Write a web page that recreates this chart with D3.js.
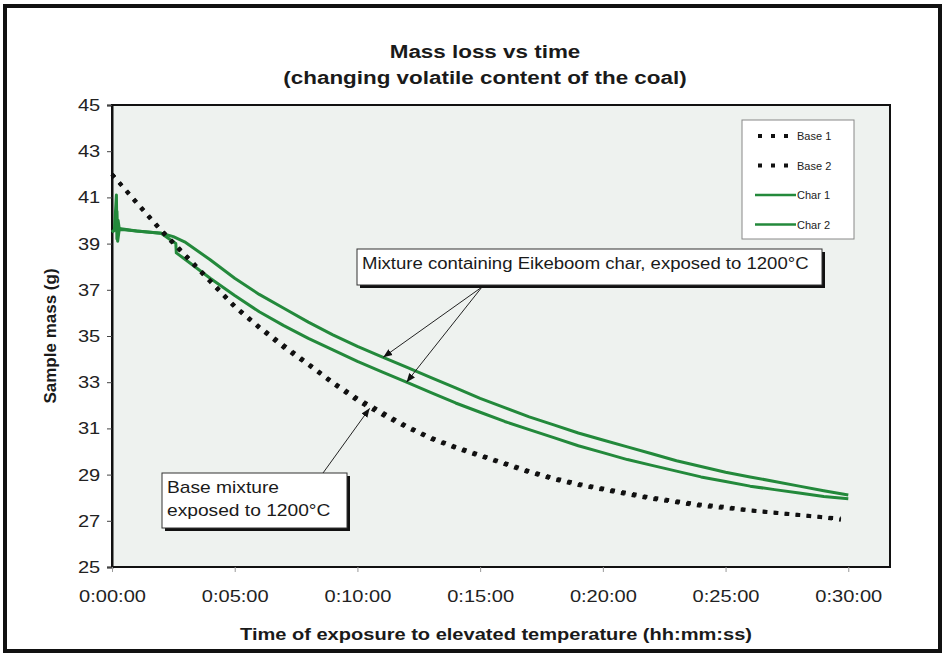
<!DOCTYPE html>
<html>
<head>
<meta charset="utf-8">
<script src="https://cdn.jsdelivr.net/npm/d3@7/dist/d3.min.js"></script>
<style>
  body { margin: 0; background: #fff; }
  svg { display: block; font-family: "Liberation Sans", Arial, sans-serif; }
</style>
</head>
<body>
<div id="chart"></div>
<script>
// values (time in minutes, mass in g)
var xTicks = [0, 5, 10, 15, 20, 25, 30];
var xTickLabels = ["0:00:00", "0:05:00", "0:10:00", "0:15:00", "0:20:00", "0:25:00", "0:30:00"];
var yTicks = [25, 27, 29, 31, 33, 35, 37, 39, 41, 43, 45];

var baseTime = [0, 1, 2, 3, 4, 5, 6, 7, 8, 9, 10, 11, 12, 13, 14, 15, 16, 17, 18, 19, 20, 21, 22, 23, 24, 25, 26, 27, 28, 29, 29.7];
var base1Mass = [42.0, 40.8, 39.6, 38.5, 37.4, 36.3, 35.4, 34.6, 33.8, 33.0, 32.3, 31.7, 31.1, 30.6, 30.2, 29.85, 29.5, 29.15, 28.85, 28.6, 28.4, 28.2, 28.0, 27.85, 27.7, 27.6, 27.45, 27.35, 27.25, 27.15, 27.1];
var base2Mass = [42.0, 40.75, 39.55, 38.45, 37.35, 36.25, 35.35, 34.5, 33.75, 32.95, 32.2, 31.6, 31.05, 30.55, 30.15, 29.8, 29.45, 29.1, 28.8, 28.55, 28.35, 28.15, 27.95, 27.8, 27.65, 27.55, 27.45, 27.35, 27.25, 27.15, 27.05];

var char1Time = [0, 0.1, 0.18, 0.2, 0.25, 0.3, 0.5, 1, 2, 2.5, 3, 4, 5, 6, 7, 8, 9, 10, 11, 12, 13, 14, 15, 16, 17, 18, 19, 20, 21, 22, 23, 24, 25, 26, 27, 28, 29, 30];
var char1Mass = [39.5, 39.6, 41.1, 39.2, 40.0, 39.6, 39.6, 39.55, 39.45, 39.3, 39.05, 38.3, 37.5, 36.8, 36.2, 35.6, 35.05, 34.55, 34.1, 33.65, 33.2, 32.75, 32.3, 31.9, 31.5, 31.15, 30.8, 30.5, 30.2, 29.9, 29.6, 29.35, 29.1, 28.9, 28.7, 28.5, 28.3, 28.12];

var char2Time = [0, 0.15, 0.2, 0.23, 0.3, 1, 2, 2.6, 2.62, 3, 4, 5, 6, 7, 8, 9, 10, 11, 12, 13, 14, 15, 16, 17, 18, 19, 20, 21, 22, 23, 24, 25, 26, 27, 28, 29, 30];
var char2Mass = [39.5, 39.6, 40.4, 39.1, 39.65, 39.55, 39.45, 39.0, 38.6, 38.3, 37.5, 36.75, 36.05, 35.45, 34.9, 34.4, 33.9, 33.45, 33.0, 32.55, 32.1, 31.7, 31.3, 30.95, 30.6, 30.25, 29.95, 29.65, 29.4, 29.15, 28.9, 28.7, 28.5, 28.35, 28.2, 28.05, 27.95];

var legendNames = ["Base 1", "Base 2", "Char 1", "Char 2"];

const W = 945, H = 656;
const pLeft = 112, pRight = 890, pTop = 105, pBottom = 567;
const green = "#23893b";
const SX = 1.18; // the scanned lettering is a bit wide

const svg = d3.select("#chart").append("svg")
  .attr("width", W).attr("height", H);

// outer frame
svg.append("rect").attr("x", 5).attr("y", 6).attr("width", 935).attr("height", 645)
  .attr("fill", "#fff").attr("stroke", "#111").attr("stroke-width", 4);

const x = d3.scaleLinear().domain([0, 31.7]).range([pLeft, pRight]);
const y = d3.scaleLinear().domain([25, 45]).range([pBottom, pTop]);

// plot area
svg.append("rect").attr("x", pLeft).attr("y", pTop)
  .attr("width", pRight - pLeft).attr("height", pBottom - pTop)
  .attr("fill", "#eef2ef").attr("stroke", "#111").attr("stroke-width", 2);

function label(px, py, txt, size, bold, anchor, sx) {
  return svg.append("text")
    .attr("transform", `translate(${px},${py}) scale(${sx || SX},1)`)
    .attr("text-anchor", anchor || "middle")
    .attr("font-size", size).attr("font-weight", bold ? "bold" : null)
    .attr("fill", "#1a1a1a").text(txt);
}

// titles
label(485, 58, "Mass loss vs time", 19, true);
label(485, 84, "(changing volatile content of the coal)", 19, true);

// axes
const yAxis = svg.append("g").attr("transform", `translate(${pLeft},0)`)
  .call(d3.axisLeft(y).tickValues(yTicks).tickSize(5).tickPadding(5));
yAxis.select(".domain").attr("stroke", "#111").attr("stroke-width", 2);
yAxis.selectAll("line").attr("stroke", "#444");
yAxis.selectAll("text").attr("font-size", 17).attr("fill", "#222")
  .attr("transform", `scale(${SX},1)`);

const xAxis = svg.append("g").attr("transform", `translate(0,${pBottom})`)
  .call(d3.axisBottom(x).tickValues(xTicks).tickSize(5).tickPadding(18)
    .tickFormat((d, i) => xTickLabels[i]));
xAxis.select(".domain").remove();
xAxis.selectAll("line").attr("stroke", "#999");
xAxis.selectAll("text").attr("font-size", 17).attr("fill", "#222")
  .attr("transform", `scale(${SX},1)`);

label(496, 640, "Time of exposure to elevated temperature (hh:mm:ss)", 17, true);
svg.append("text").attr("transform", "translate(56,336) rotate(-90)")
  .attr("text-anchor", "middle").attr("font-size", 17).attr("font-weight", "bold")
  .attr("fill", "#1a1a1a").text("Sample mass (g)");

// series
const line = d3.line().x(d => x(d[0])).y(d => y(d[1]));
const zip = (t, m) => t.map((v, i) => [v, m[i]]);

const base1 = zip(baseTime, base1Mass);
const base2 = zip(baseTime, base2Mass);
const char1 = zip(char1Time, char1Mass);
const char2 = zip(char2Time, char2Mass);

const plot = svg.append("g");
[char1, char2].forEach(s => {
  plot.append("path").datum(s).attr("d", line)
    .attr("fill", "none").attr("stroke", green).attr("stroke-width", 3)
    .attr("stroke-linejoin", "round");
});
[base1, base2].forEach(s => {
  plot.append("path").datum(s).attr("d", line)
    .attr("fill", "none").attr("stroke", "#111").attr("stroke-width", 4)
    .attr("stroke-dasharray", "4,7");
});

// legend
const lg = svg.append("g").attr("transform", "translate(742,120)");
lg.append("rect").attr("width", 112).attr("height", 119)
  .attr("fill", "#fff").attr("stroke", "#888");
legendNames.forEach((name, i) => {
  const yy = 16 + i * 29.5;
  const isBase = i < 2;
  lg.append("line").attr("x1", isBase ? 16 : 13).attr("x2", isBase ? 46 : 54)
    .attr("y1", yy).attr("y2", yy)
    .attr("stroke", isBase ? "#111" : green)
    .attr("stroke-width", isBase ? 4 : 2.5)
    .attr("stroke-dasharray", isBase ? "4,9" : null);
  lg.append("text").attr("x", 55).attr("y", yy + 4).attr("font-size", 11)
    .attr("fill", "#222").text(name);
});

// annotations
function massAt(s, t) {
  const i = d3.bisector(d => d[0]).left(s, t);
  if (i <= 0) return s[0][1];
  const a = s[i - 1], b = s[i];
  return a[1] + (b[1] - a[1]) * (t - a[0]) / (b[0] - a[0]);
}

svg.append("defs").append("marker").attr("id", "arr")
  .attr("viewBox", "0 0 10 10").attr("refX", 10).attr("refY", 5)
  .attr("markerWidth", 9).attr("markerHeight", 9).attr("orient", "auto")
  .append("path").attr("d", "M0,1 L10,5 L0,9 z").attr("fill", "#111");

function box(bx, by, bw, bh, lines, sx) {
  const g = svg.append("g");
  g.append("rect").attr("x", bx + 3).attr("y", by + 3).attr("width", bw).attr("height", bh).attr("fill", "#111");
  g.append("rect").attr("x", bx).attr("y", by).attr("width", bw).attr("height", bh)
    .attr("fill", "#fff").attr("stroke", "#333").attr("stroke-width", 1);
  lines.forEach((s, i) => {
    label(bx + 5, by + 20 + i * 23, s, 16, false, "start", sx);
  });
}

// arrows to the char curves
const charTargets = [[char1, 11.05], [char2, 12.0]];
charTargets.forEach(([s, t]) => {
  svg.append("line").attr("x1", 482).attr("y1", 287)
    .attr("x2", x(t)).attr("y2", y(massAt(s, t)))
    .attr("stroke", "#222").attr("stroke-width", 1).attr("marker-end", "url(#arr)");
});
// arrow to the base curve
svg.append("line").attr("x1", 323).attr("y1", 473)
  .attr("x2", x(10.5)).attr("y2", y(massAt(base1, 10.5)) + 3)
  .attr("stroke", "#222").attr("stroke-width", 1).attr("marker-end", "url(#arr)");

box(357, 249, 465, 36, ["Mixture containing Eikeboom char, exposed to 1200°C"], 1.16);
box(162, 473, 185, 55, ["Base mixture", "exposed to 1200°C"], 1.2);
</script>
</body>
</html>
